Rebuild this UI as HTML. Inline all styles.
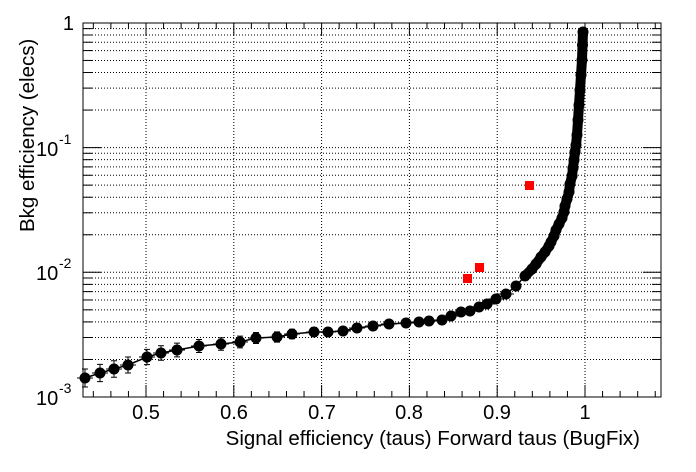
<!DOCTYPE html>
<html><head><meta charset="utf-8"><style>
html,body{margin:0;padding:0;background:#fff;}
svg{display:block;font-family:"Liberation Sans",Arial,sans-serif;}
</style></head><body>
<svg id="s" width="696" height="472" viewBox="0 0 696 472" xmlns="http://www.w3.org/2000/svg">
<rect width="696" height="472" fill="#fff"/>
<g id="grid" stroke="#000" stroke-width="1" stroke-dasharray="1,2"></g>
<g id="ticks" stroke="#000" stroke-width="1"></g>
<rect x="83" y="23" width="578" height="374" fill="none" stroke="#000" stroke-width="1"/>
<g font-size="20" fill="#000">
<text x="146" y="419" text-anchor="middle">0.5</text>
<text x="234" y="419" text-anchor="middle">0.6</text>
<text x="322" y="419" text-anchor="middle">0.7</text>
<text x="409" y="419" text-anchor="middle">0.8</text>
<text x="497" y="419" text-anchor="middle">0.9</text>
<text x="585" y="419" text-anchor="middle">1</text>
<text x="74" y="30" text-anchor="end">1</text>
<text x="36" y="156">10</text><text x="59" y="144" font-size="14">-1</text>
<text x="36" y="280">10</text><text x="59" y="268" font-size="14">-2</text>
<text x="36" y="405">10</text><text x="59" y="393" font-size="14">-3</text>
<text x="640" y="445" text-anchor="end" font-size="20.5">Signal efficiency (taus) Forward taus (BugFix)</text>
<text transform="translate(34,232) rotate(-90)" text-anchor="start" font-size="20.5">Bkg efficiency (elecs)</text>
</g>
<g id="data"></g>
<g fill="#ff0000">
<rect x="463" y="274" width="9" height="9"/>
<rect x="475" y="263" width="9" height="9"/>
<rect x="525" y="181" width="9" height="9"/>
</g>
</svg>
<script>
var NS="http://www.w3.org/2000/svg";
function L(g,x1,y1,x2,y2){var l=document.createElementNS(NS,"line");l.setAttribute("x1",x1);l.setAttribute("y1",y1);l.setAttribute("x2",x2);l.setAttribute("y2",y2);document.getElementById(g).appendChild(l);}
var L0=83,R=661,T=23,B=397;
function X(v){return 146+(v-0.5)*878;}
function Y(v){return B-124.7*(Math.log10(v)+3);}
for(var i=0;i<6;i++){var x=X(0.5+i*0.1);L("grid",x,T,x,B);}
for(var k=22;k<=54;k++){var v=k*0.02;var x=X(v);if(x<L0+1||x>R-1)continue;var maj=(k%5==0);var len=maj?12:6;L("ticks",x,B,x,B-len);L("ticks",x,T,x,T+len);}
for(var d=-3;d<=-1;d++){for(var m=1;m<=9;m++){var v=m*Math.pow(10,d);var y=Y(v);if(m>1||d>-3)L("grid",L0,y,R,y);var len=(m==1)?18:9;L("ticks",L0,y,L0+len,y);L("ticks",R,y,R-len,y);}}
var pts=[[85,378],[100,373],[114,369],[128,365],[147,357],[161,353],[177,350],[199,346],[221,344],[240,342],[256,338],[277,337],[292,334],[314,332],[328,332],[343,331],[357,328],[373,326],[389,324],[406,323],[419,322],[429,321],[442,320],[451,316],[461,312],[470,311],[479,307],[487,304],[496,299],[506,294],[516,286],[525,276],[532,269],[536,264],[541,257],[545,252],[549,246],[551,242],[554,236],[556,230],[559,224],[562,218],[564,212],[565,206],[567,199],[569,192],[570,184],[572,176],[573,168],[574,160],[575,152],[576,145],[577,135],[578,120],[579,105],[580,90],[581,75],[582,60],[582.5,45],[583,32]];
var g=document.getElementById("data");
var pl=document.createElementNS(NS,"polyline");pl.setAttribute("points",pts.map(function(p){return p.join(",")}).join(" "));pl.setAttribute("fill","none");pl.setAttribute("stroke","#000");pl.setAttribute("stroke-width","1.5");g.appendChild(pl);
var thick=document.createElementNS(NS,"polyline");thick.setAttribute("points",pts.slice(31).map(function(p){return p.join(",")}).join(" "));thick.setAttribute("fill","none");thick.setAttribute("stroke","#000");thick.setAttribute("stroke-width","10");thick.setAttribute("stroke-linecap","round");g.appendChild(thick);
pts.forEach(function(p,i){
 var e=Math.max(1,9-i*0.35);
 if(i<30){var a=document.createElementNS(NS,"path");a.setAttribute("d","M"+p[0]+","+(p[1]-e)+"V"+(p[1]+e)+"M"+(p[0]-3)+","+(p[1]-e)+"h6M"+(p[0]-3)+","+(p[1]+e)+"h6M"+(p[0]-8)+","+p[1]+"h16");a.setAttribute("stroke","#000");a.setAttribute("fill","none");g.appendChild(a);}
 var c=document.createElementNS(NS,"circle");c.setAttribute("cx",p[0]);c.setAttribute("cy",p[1]);c.setAttribute("r",5.5);c.setAttribute("fill","#000");g.appendChild(c);
});
</script>
</body></html>
